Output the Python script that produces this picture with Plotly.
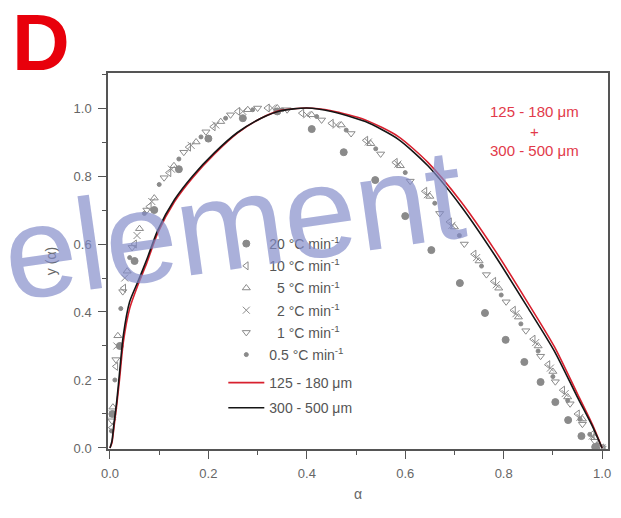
import plotly.graph_objects as go

# ---------------- data ----------------
curve_alpha = [0, 0.004, 0.008, 0.014, 0.02, 0.027, 0.04, 0.057, 0.075, 0.097, 0.131, 0.168,
               0.212, 0.259, 0.307, 0.347, 0.40, 0.45, 0.519, 0.586, 0.646, 0.713, 0.782,
               0.848, 0.903, 0.949, 0.98, 1.0]
black_y = [0, 0.02, 0.07, 0.14, 0.23, 0.33, 0.43, 0.49, 0.555, 0.64, 0.73, 0.80, 0.868, 0.928,
           0.97, 0.992, 1.0, 0.99, 0.96, 0.908, 0.83, 0.712, 0.567, 0.415, 0.285, 0.152, 0.065, 0.0]
red_y = [0, 0.015, 0.06, 0.13, 0.21, 0.31, 0.41, 0.48, 0.545, 0.632, 0.724, 0.795, 0.864, 0.926,
         0.97, 0.993, 1.0, 0.992, 0.965, 0.916, 0.84, 0.725, 0.582, 0.43, 0.298, 0.162, 0.07, 0.0]

a20 = [0.005, 0.02, 0.05, 0.09, 0.14, 0.2, 0.27, 0.34, 0.41, 0.475, 0.539, 0.60, 0.653, 0.711,
       0.762, 0.804, 0.842, 0.875, 0.905, 0.931, 0.958, 0.986]
y20 = [0.1, 0.3, 0.55, 0.7, 0.82, 0.91, 0.97, 0.99, 0.938, 0.87, 0.788, 0.682, 0.582, 0.485,
       0.397, 0.318, 0.253, 0.194, 0.135, 0.082, 0.035, 0.003]

a10 = [0.004, 0.012, 0.028, 0.05, 0.08, 0.12, 0.16, 0.21, 0.26, 0.32, 0.39, 0.45, 0.52, 0.58,
       0.64, 0.69, 0.74, 0.78, 0.82, 0.86, 0.89, 0.92, 0.95, 0.98, 1.0]
y10 = [0.06, 0.24, 0.47, 0.6, 0.71, 0.81, 0.885, 0.945, 0.99, 1.0, 0.985, 0.955, 0.905, 0.84,
       0.755, 0.665, 0.57, 0.49, 0.405, 0.32, 0.245, 0.17, 0.1, 0.04, 0.0]

a5 = [0.006, 0.016, 0.035, 0.06, 0.09, 0.13, 0.175, 0.225, 0.28, 0.34, 0.41, 0.47, 0.53, 0.59,
      0.65, 0.70, 0.75, 0.79, 0.83, 0.87, 0.90, 0.93, 0.96, 0.985, 1.0]
y5 = [0.12, 0.33, 0.52, 0.645, 0.735, 0.83, 0.9, 0.96, 0.995, 1.0, 0.98, 0.95, 0.895, 0.83,
      0.74, 0.65, 0.55, 0.47, 0.385, 0.3, 0.225, 0.15, 0.085, 0.03, 0.0]

a2 = [0.005, 0.014, 0.03, 0.055, 0.085, 0.125, 0.165, 0.215, 0.27, 0.33, 0.40, 0.46, 0.525,
      0.585, 0.645, 0.695, 0.745, 0.785, 0.825, 0.865, 0.895, 0.925, 0.955, 0.98, 1.0]
y2 = [0.1, 0.3, 0.5, 0.625, 0.725, 0.82, 0.89, 0.95, 0.99, 1.0, 0.98, 0.95, 0.9, 0.835, 0.745,
      0.655, 0.56, 0.48, 0.395, 0.31, 0.235, 0.16, 0.09, 0.035, 0.0]

a1 = [0.004, 0.012, 0.026, 0.045, 0.075, 0.11, 0.15, 0.195, 0.245, 0.30, 0.36, 0.43, 0.49,
      0.55, 0.61, 0.67, 0.72, 0.765, 0.805, 0.845, 0.875, 0.905, 0.935, 0.96, 0.985, 1.0]
y1 = [0.08, 0.26, 0.46, 0.59, 0.7, 0.795, 0.87, 0.93, 0.98, 1.0, 0.995, 0.965, 0.925, 0.865,
      0.785, 0.69, 0.6, 0.51, 0.43, 0.345, 0.27, 0.195, 0.13, 0.07, 0.02, 0.0]

a05 = [0.003, 0.01, 0.022, 0.04, 0.07, 0.1, 0.14, 0.185, 0.235, 0.29, 0.35, 0.42, 0.48, 0.54,
       0.60, 0.66, 0.71, 0.755, 0.795, 0.835, 0.87, 0.90, 0.93, 0.955, 0.975, 0.99]
y05 = [0.05, 0.2, 0.41, 0.56, 0.69, 0.775, 0.85, 0.915, 0.97, 0.995, 0.995, 0.975, 0.935,
       0.88, 0.81, 0.72, 0.625, 0.535, 0.45, 0.365, 0.285, 0.21, 0.14, 0.085, 0.04, 0.01]

rate_labels = ["20 °C min<sup>-1</sup>", "10 °C min<sup>-1</sup>", "\u20075 °C min<sup>-1</sup>",
               "\u20072 °C min<sup>-1</sup>", "\u20071 °C min<sup>-1</sup>", "0.5 °C min<sup>-1</sup>"]
size_labels = ["125 - 180 μm", "300 - 500 μm"]

x_ticks = [0.0, 0.2, 0.4, 0.6, 0.8, 1.0]
y_ticks = [0.0, 0.2, 0.4, 0.6, 0.8, 1.0]

# ---------------- figure ----------------
FONT = "Arial, Liberation Sans, sans-serif"
GRAY = "#8a8a8a"
fig = go.Figure()

series = [(a20, y20, "circle"), (a10, y10, "triangle-left-open"), (a5, y5, "triangle-up-open"),
          (a2, y2, "x-thin-open"), (a1, y1, "triangle-down-open"), (a05, y05, "circle")]
sizes = [7, 7, 7, 7, 7, 4]
for i, ((ax, ay, sym), lab) in enumerate(zip(series, rate_labels)):
    fig.add_trace(go.Scatter(
        x=ax, y=ay, mode="markers", name=lab, legendgroup=f"g{i}", legend="legend",
        marker=dict(symbol=sym, size=sizes[i], color=GRAY, line=dict(color=GRAY, width=1)),
    ))

fig.add_trace(go.Scatter(x=curve_alpha, y=red_y, mode="lines", name=size_labels[0],
                         legendgroup="g6", legend="legend2",
                         line=dict(color="#d8202e", width=1.6, shape="spline", smoothing=0.7)))
fig.add_trace(go.Scatter(x=curve_alpha, y=black_y, mode="lines", name=size_labels[1],
                         legendgroup="g7", legend="legend2",
                         line=dict(color="#151515", width=1.6, shape="spline", smoothing=0.7)))

L, R, T, B = 108, 10, 73, 69
W, H = 621, 518
pw, ph = W - L - R, H - T - B

def px(x):
    return (x - L) / pw

def py(y):
    return (H - B - y) / ph

axis_common = dict(showline=True, linecolor="#555555", linewidth=1.5, mirror=True,
                   ticks="outside", ticklen=8, tickwidth=1, tickcolor="#555555",
                   showgrid=False, zeroline=False, ticklabelstandoff=4,
                   tickfont=dict(family=FONT, size=13, color="#666666"),
                   minor=dict(dtick=0.1, ticks="outside", ticklen=4, tickcolor="#555555"))

fig.update_xaxes(range=[-0.004, 1.012], tickvals=x_ticks, ticktext=[f"{v:.1f}" for v in x_ticks],
                 title=dict(text="α", font=dict(family=FONT, size=14, color="#666666"), standoff=9),
                 **axis_common)
fig.update_yaxes(range=[-0.003, 1.103], tickvals=y_ticks, ticktext=[f"{v:.1f}" for v in y_ticks],
                 title=dict(text="y (α)", font=dict(family=FONT, size=14, color="#666666"), standoff=14),
                 **axis_common)

legend_common = dict(xanchor="left", yanchor="top", bgcolor="rgba(0,0,0,0)",
                     font=dict(family=FONT, size=14, color="#555555"),
                     traceorder="grouped", itemwidth=36)

fig.update_layout(
    width=W, height=H, margin=dict(l=L, r=R, t=T, b=B),
    paper_bgcolor="white", plot_bgcolor="white",
    showlegend=True,
    legend=dict(x=px(224), y=py(228), tracegroupgap=1, **legend_common),
    legend2=dict(x=px(224), y=py(367), tracegroupgap=4, **legend_common),
    annotations=[
        dict(text="<b>D</b>", x=px(9), y=py(-4), xref="paper", yref="paper",
             xanchor="left", yanchor="top", showarrow=False,
             font=dict(family=FONT, size=80, color="#e8000b")),
        dict(text="125 - 180 μm<br>+<br>300 - 500 μm", x=px(537), y=py(131), xref="paper",
             yref="paper", xanchor="center", yanchor="middle", showarrow=False,
             font=dict(family=FONT, size=15, color="#e23a4a")),
        dict(text="element", x=px(234), y=py(224), xref="paper", yref="paper",
             xanchor="center", yanchor="middle", showarrow=False, textangle=-8,
             font=dict(family=FONT, size=130, color="rgba(130,138,200,0.68)")),
    ],
)

fig.write_html("out.html")
